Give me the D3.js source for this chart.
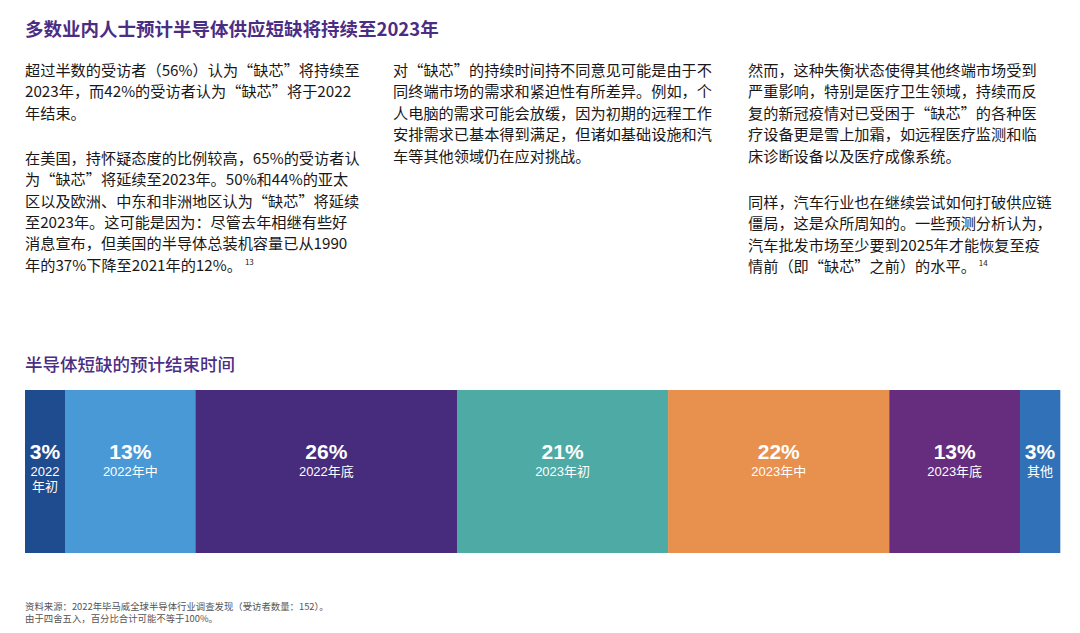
<!DOCTYPE html>
<html><head><meta charset="utf-8">
<script src="https://cdn.jsdelivr.net/npm/d3@7"></script>
<style>
html,body{margin:0;padding:0;background:#fff;}
svg{display:block;}
</style></head>
<body>
<svg id="chart" width="1080" height="633"></svg>
<script>
const title = "多数业内人士预计半导体供应短缺将持续至2023年";
const chartTitle = "半导体短缺的预计结束时间";
const categories = ["2022年初","2022年中","2022年底","2023年初","2023年中","2023年底","其他"];
const values = [3,13,26,21,22,13,3];
const colors = ["#1f4c8f","#4899d6","#472b7d","#4eaaa5","#e8904d","#662c7e","#3171b7"];
const col1 = [
  ["超过半数的受访者（56%）认为“缺芯”将持续至","2023年，而42%的受访者认为“缺芯”将于2022","年结束。"],
  ["在美国，持怀疑态度的比例较高，65%的受访者认","为“缺芯”将延续至2023年。50%和44%的亚太","区以及欧洲、中东和非洲地区认为“缺芯”将延续","至2023年。这可能是因为：尽管去年相继有些好","消息宣布，但美国的半导体总装机容量已从1990","年的37%下降至2021年的12%。|13"]
];
const col2 = [
  ["对“缺芯”的持续时间持不同意见可能是由于不","同终端市场的需求和紧迫性有所差异。例如，个","人电脑的需求可能会放缓，因为初期的远程工作","安排需求已基本得到满足，但诸如基础设施和汽","车等其他领域仍在应对挑战。"]
];
const col3 = [
  ["然而，这种失衡状态使得其他终端市场受到","严重影响，特别是医疗卫生领域，持续而反","复的新冠疫情对已受困于“缺芯”的各种医","疗设备更是雪上加霜，如远程医疗监测和临","床诊断设备以及医疗成像系统。"],
  ["同样，汽车行业也在继续尝试如何打破供应链","僵局，这是众所周知的。一些预测分析认为，","汽车批发市场至少要到2025年才能恢复至疫","情前（即“缺芯”之前）的水平。|14"]
];
const footnotes = ["资料来源：2022年毕马威全球半导体行业调查发现（受访者数量：152）。","由于四舍五入，百分比合计可能不等于100%。"];

const svg = d3.select("#chart");
const CJK = "'Noto Sans CJK SC','Noto Sans',sans-serif";
const LAT = "'Liberation Sans','Noto Sans CJK SC',sans-serif";
const purple = "#4b2d83";

svg.append("text").attr("x",25).attr("y",36).text(title)
  .style("font-family",CJK).style("font-size","18.5px").style("font-weight","700").attr("fill",purple);

function drawColumn(paras, x, y0, lh, gap){
  let y = y0;
  paras.forEach(p=>{
    p.forEach(line=>{
      const [main, sup] = line.split("|");
      const t = svg.append("text").attr("x",x).attr("y",y)
        .style("font-family",CJK).style("font-size","15.2px").attr("fill","#1a1718");
      t.append("tspan").text(main);
      if(sup){ t.append("tspan").attr("dx",3).attr("dy",-6).style("font-size","8px").text(sup); }
      y += lh;
    });
    y += gap;
  });
}
drawColumn(col1, 25, 76, 21.4, 23.5);
drawColumn(col2, 393, 76, 21.4, 23.5);
drawColumn(col3, 748, 76, 21.4, 25);

svg.append("text").attr("x",25).attr("y",371).text(chartTitle)
  .style("font-family",CJK).style("font-size","17.5px").style("font-weight","500").attr("fill",purple);

// Layout: proportional widths with a minimum segment width so labels fit
const left = 25, right = 1060, minW = 40;
const total = d3.sum(values);
const xFull = d3.scaleLinear().domain([0,total]).range([0,right-left]);
const small = values.map(v => xFull(v) < minW);
const smallW = d3.sum(small, s => s ? minW : 0);
const restTotal = d3.sum(values.filter((v,i)=>!small[i]));
const wScale = d3.scaleLinear().domain([0,restTotal]).range([0, right-left-smallW]);
let cx0 = left;
const segs = values.map((v,i)=>{
  const w = small[i] ? minW : wScale(v);
  const s = {v, cat:categories[i], color:colors[i], x:cx0, w};
  cx0 += w; return s;
});
const barY = 390, barH = 163;
svg.append("g").selectAll("rect").data(segs).join("rect")
  .attr("x",d=>d.x).attr("y",barY)
  .attr("width",d=>d.w+0.3).attr("height",barH)
  .attr("fill",d=>d.color);

segs.forEach(d=>{
  const cx = d.x + d.w/2;
  svg.append("text").attr("x",cx).attr("y",459).attr("text-anchor","middle")
    .style("font-family",LAT).style("font-size","21px").style("font-weight","700").attr("fill","#fff").text(d.v+"%");
  let lines = [d.cat];
  if(d.w < 45 && d.cat.indexOf("年")>0){ const k=d.cat.indexOf("年"); lines=[d.cat.slice(0,k), d.cat.slice(k)]; }
  lines.forEach((ln,j)=>{
    svg.append("text").attr("x",cx).attr("y",476+j*15).attr("text-anchor","middle")
      .style("font-family",LAT).style("font-size","13px").attr("fill","#fff").text(ln);
  });
});

footnotes.forEach((f,i)=>{
  svg.append("text").attr("x",25).attr("y",610+i*12).text(f)
    .style("font-family",CJK).style("font-size","9.4px").attr("fill","#555");
});
</script>
</body></html>
